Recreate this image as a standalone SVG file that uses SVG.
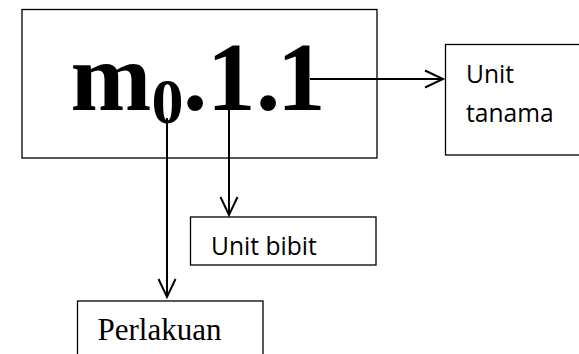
<svg xmlns="http://www.w3.org/2000/svg" width="579" height="354" viewBox="0 0 579 354">
  <style>
    .box { fill: #fff; stroke: #000; stroke-width: 1.3; }
    .conn { fill: none; stroke: #000; stroke-width: 2; }
    .sans { font-family: "Open Sans", "Noto Sans", sans-serif; font-size: 24.6px; fill: #000; }
    .serif { font-family: "Liberation Serif", "Times New Roman", serif; fill: #000; }
  </style>
  <defs>
    <marker id="ah" markerUnits="userSpaceOnUse" markerWidth="24" markerHeight="24" refX="20" refY="10" orient="auto" overflow="visible">
      <path d="M2,1.5 L20,10 L2,18.5" fill="none" stroke="#000" stroke-width="2"/>
    </marker>
  </defs>
  <rect width="579" height="354" fill="#fff"/>

  <g id="main">
    <rect class="box" x="22" y="9.5" width="355" height="148.5"/>
    <text class="serif" font-weight="bold" font-size="97" x="70.5" y="110">m<tspan font-size="64" x="151.5" y="123">0</tspan><tspan x="183 207 256 277" y="110">.1.1</tspan></text>
  </g>

  <g id="unit-tanama">
    <rect class="box" x="445.5" y="44.5" width="140" height="110.5"/>
    <text class="sans" x="466" y="83">Unit</text>
    <text class="sans" x="466" y="122">tanama</text>
  </g>

  <g id="unit-bibit">
    <rect class="box" x="190.5" y="217" width="185.5" height="48"/>
    <text class="sans" x="211" y="255">Unit bibit</text>
  </g>

  <g id="perlakuan">
    <rect class="box" x="77.5" y="301" width="185.5" height="60"/>
    <text class="serif" font-size="31" x="97.5" y="340">Perlakuan</text>
  </g>

  <g id="connectors">
    <line class="conn" x1="310" y1="79" x2="443" y2="79" marker-end="url(#ah)"/>
    <line class="conn" x1="167" y1="118" x2="167" y2="297" marker-end="url(#ah)"/>
    <line class="conn" x1="229" y1="110" x2="229" y2="215" marker-end="url(#ah)"/>
  </g>
</svg>
